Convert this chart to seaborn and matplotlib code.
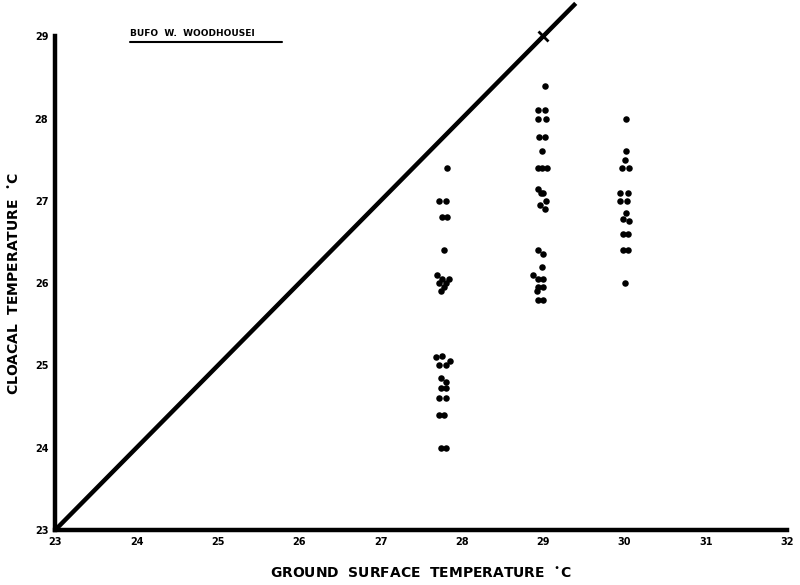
import numpy as np
import pandas as pd
import matplotlib
matplotlib.use('Agg')
import matplotlib.pyplot as plt
import seaborn as sns

# cloacal temperature readings, grouped by ground temperature column
ground_28 = [27.82, 27.72, 27.8, 27.75, 27.82, 27.78,
             27.7, 27.76, 27.8, 27.72, 27.78, 27.74, 27.84,
             27.68, 27.75, 27.85, 27.8, 27.72,
             27.74, 27.8, 27.74, 27.8,
             27.72, 27.8, 27.72, 27.78, 27.74, 27.8]
cloacal_28 = [27.4, 27.0, 27.0, 26.8, 26.8, 26.4,
              26.1, 26.05, 26.0, 26.0, 25.95, 25.9, 26.05,
              25.1, 25.12, 25.05, 25.0, 25.0,
              24.85, 24.8, 24.72, 24.72,
              24.6, 24.6, 24.4, 24.4, 24.0, 24.0]

ground_29 = [29.02, 28.94, 29.02, 28.94, 29.04, 28.95, 29.02, 28.99,
             28.93, 28.99, 29.05, 28.94, 29.0, 28.97, 29.03, 28.96, 29.02,
             28.94, 29.0, 28.99, 28.88, 28.94, 29.0, 28.94, 29.0, 28.92, 28.93, 29.0]
cloacal_29 = [28.4, 28.1, 28.1, 28.0, 28.0, 27.78, 27.78, 27.6,
              27.4, 27.4, 27.4, 27.15, 27.1, 27.1, 27.0, 26.95, 26.9,
              26.4, 26.36, 26.2, 26.1, 26.05, 26.05, 25.95, 25.95, 25.9, 25.8, 25.8]

ground_30 = [30.02, 30.02, 30.0, 29.97, 30.05, 29.95, 30.04, 29.95, 30.03,
             30.02, 29.98, 30.05, 29.98, 30.04, 29.98, 30.04, 30.01]
cloacal_30 = [28.0, 27.6, 27.5, 27.4, 27.4, 27.1, 27.1, 27.0, 27.0,
              26.85, 26.78, 26.75, 26.6, 26.6, 26.4, 26.4, 26.0]

x_ticks = [23, 24, 25, 26, 27, 28, 29, 30, 31, 32]
y_ticks = [23, 24, 25, 26, 27, 28, 29]

df = pd.DataFrame({
    'ground': ground_28 + ground_29 + ground_30,
    'cloacal': cloacal_28 + cloacal_29 + cloacal_30,
})

sns.set_style('white')
plt.rcParams['font.family'] = ['DejaVu Sans']
plt.rcParams['text.color'] = 'black'
plt.rcParams['axes.labelcolor'] = 'black'
plt.rcParams['xtick.color'] = 'black'
plt.rcParams['ytick.color'] = 'black'

fig = plt.figure(figsize=(8, 5.85), dpi=100)
ax = fig.add_axes([0.069, 0.094, 0.915, 0.844])

sns.scatterplot(data=df, x='ground', y='cloacal', color='black', s=22,
                edgecolor='black', linewidth=0, ax=ax)

# equal-temperature line
ax.plot([23, 29.4], [23, 29.4], color='black', lw=3.2, clip_on=False,
        solid_capstyle='butt')
ax.plot([29], [29], marker='x', color='black', ms=7, mew=2, clip_on=False)

ax.set_xlim(23, 32)
ax.set_ylim(23, 29)
ax.set_xticks(x_ticks)
ax.set_yticks(y_ticks)
ax.set_xticklabels([str(t) for t in x_ticks], fontsize=7, fontweight='bold')
ax.set_yticklabels([str(t) for t in y_ticks], fontsize=7, fontweight='bold')
ax.tick_params(axis='both', direction='in', length=4, width=2.5, pad=5)

for side in ['top', 'right']:
    ax.spines[side].set_visible(False)
for side in ['left', 'bottom']:
    ax.spines[side].set_linewidth(3.2)
    ax.spines[side].set_color('black')

ax.set_xlabel('GROUND  SURFACE  TEMPERATURE  $^{\\bullet}$C', fontsize=10,
              fontweight='bold', labelpad=14)
ax.set_ylabel('CLOACAL  TEMPERATURE  $^{\\bullet}$C', fontsize=10,
              fontweight='bold', labelpad=9)

fig.text(0.163, 0.935, 'BUFO  W.  WOODHOUSEI', fontsize=6.5, fontweight='bold',
         va='bottom')
fig.add_artist(matplotlib.lines.Line2D([0.163, 0.352], [0.928, 0.928],
                                       color='black', lw=1.5))

fig.savefig('out.png', dpi=100, facecolor='white')
